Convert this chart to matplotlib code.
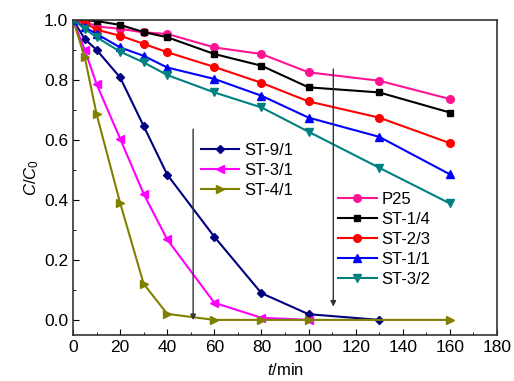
import matplotlib
matplotlib.use('Agg')
import matplotlib.pyplot as plt
from matplotlib.ticker import MultipleLocator

plt.rcParams['font.family'] = 'Liberation Sans'
plt.rcParams['mathtext.fontset'] = 'custom'
plt.rcParams['mathtext.rm'] = 'Liberation Sans'
plt.rcParams['mathtext.it'] = 'Liberation Sans:italic'

# time points (min)
t_fast = [0, 5, 10, 20, 30, 40, 60, 80, 100, 130]
t_mid = [0, 5, 10, 20, 30, 40, 60, 80, 100]
t_long = [0, 5, 10, 20, 30, 40, 60, 80, 100, 160]
t_all = [0, 5, 10, 20, 30, 40, 60, 80, 100, 130, 160]

# C/C0 values
st_9_1 = [1.0, 0.936, 0.90, 0.808, 0.646, 0.484, 0.277, 0.089, 0.019, 0.0]
st_3_1 = [1.0, 0.90, 0.786, 0.604, 0.42, 0.268, 0.057, 0.007, 0.0]
st_4_1 = [1.0, 0.875, 0.686, 0.39, 0.12, 0.02, 0.0, 0.0, 0.0, 0.0]
p25 = [1.0, 0.995, 0.978, 0.97, 0.958, 0.953, 0.908, 0.886, 0.825, 0.797, 0.736]
st_1_4 = [1.0, 0.998, 0.996, 0.983, 0.959, 0.942, 0.886, 0.847, 0.775, 0.758, 0.691]
st_2_3 = [1.0, 0.99, 0.967, 0.947, 0.92, 0.892, 0.843, 0.79, 0.728, 0.674, 0.589]
st_1_1 = [1.0, 0.975, 0.953, 0.908, 0.88, 0.841, 0.803, 0.747, 0.674, 0.61, 0.485]
st_3_2 = [1.0, 0.97, 0.942, 0.894, 0.858, 0.816, 0.758, 0.708, 0.627, 0.507, 0.388]

fig = plt.figure(figsize=(5.14, 3.81), dpi=100)
ax = fig.add_axes([0.142, 0.121, 0.825, 0.827])

kw = dict(lw=1.5, ms=5.5)
l1, = ax.plot(t_fast, st_9_1, color='#000080', marker='D', ms=4.5, lw=1.5, label='ST-9/1')
l2, = ax.plot(t_mid, st_3_1, color='#FF00FF', marker='<', label='ST-3/1', **kw)
l3, = ax.plot(t_long, st_4_1, color='#808000', marker='>', label='ST-4/1', **kw)
l4, = ax.plot(t_all, p25, color='#FF1493', marker='o', label='P25', **kw)
l5, = ax.plot(t_all, st_1_4, color='black', marker='s', ms=5, lw=1.5, label='ST-1/4')
l6, = ax.plot(t_all, st_2_3, color='red', marker='o', label='ST-2/3', **kw)
l7, = ax.plot(t_all, st_1_1, color='blue', marker='^', label='ST-1/1', **kw)
l8, = ax.plot(t_all, st_3_2, color='#008080', marker='v', label='ST-3/2', **kw)

# arrows
ax.annotate('', xy=(51, -0.01), xytext=(51, 0.645),
            arrowprops=dict(arrowstyle='-|>', color='#333333', lw=1, mutation_scale=8))
ax.annotate('', xy=(110.5, 0.035), xytext=(110.5, 0.845),
            arrowprops=dict(arrowstyle='-|>', color='#333333', lw=1, mutation_scale=8))

ax.set_xlim(0, 180)
ax.set_ylim(-0.05, 1.0)
ax.xaxis.set_major_locator(MultipleLocator(20))
ax.xaxis.set_minor_locator(MultipleLocator(10))
ax.yaxis.set_major_locator(MultipleLocator(0.2))
ax.yaxis.set_minor_locator(MultipleLocator(0.1))
ax.yaxis.set_major_formatter(plt.FormatStrFormatter('%.1f'))
ax.tick_params(which='both', direction='in', labelsize=12.5, top=False, right=False)
ax.tick_params(which='major', length=4.5)
ax.tick_params(which='minor', length=2.5)
for s in ax.spines.values():
    s.set_linewidth(1.2)
    s.set_color('#333333')

ax.set_xlabel(r'$\mathit{t}$/min', fontsize=12, labelpad=5)
ax.set_ylabel(r'$\mathit{C}/\mathit{C}_\mathrm{0}$', fontsize=12, labelpad=2)

leg1 = ax.legend(handles=[l1, l2, l3], loc='upper left', bbox_to_anchor=(0.285, 0.63),
                 frameon=False, fontsize=12, handlelength=2.3, handletextpad=0.3,
                 labelspacing=0.3, borderaxespad=0)
ax.add_artist(leg1)
ax.legend(handles=[l4, l5, l6, l7, l8], loc='upper left', bbox_to_anchor=(0.61, 0.475),
          frameon=False, fontsize=12, handlelength=2.3, handletextpad=0.3,
          labelspacing=0.3, borderaxespad=0)

fig.savefig('out.png', dpi=100)
